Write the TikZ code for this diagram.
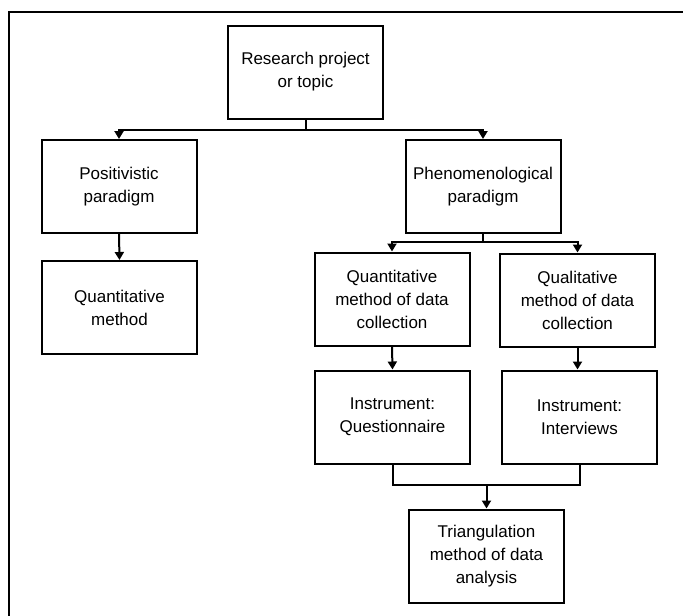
\documentclass[tikz,border=0pt]{standalone}
\usepackage{fontspec}
\setmainfont{Liberation Sans}
\usetikzlibrary{arrows.meta}
\begin{document}
\begin{tikzpicture}[x=1pt,y=-1pt,
  stage/.style={draw=black, line width=2pt, fill=white, align=center,
    minimum width=155pt, minimum height=93pt, inner sep=2pt,
    font=\fontsize{17}{23}\selectfont},
  link/.style={line width=2pt},
  arr/.style={link, -{Triangle[width=9pt,length=8pt]}}]
\useasboundingbox (0,0) rectangle (683,616);
% outer frame (open to the right and bottom)
\draw[line width=2.8pt] (9,616) -- (9,12) -- (683,12);

% boxes
\node[stage] (res) at (305.5,72)  {Research project\\or topic};
\node[stage] (pos) at (119,186.5) {Positivistic\\paradigm};
\node[stage] (phe) at (483,186.5) {Phenomenological\\paradigm};
\node[stage] (qm)  at (119.5,307.5) {Quantitative\\method};
\node[stage] (qdc) at (392,299)   {Quantitative\\method of data\\collection};
\node[stage] (ldc) at (577.5,300) {Qualitative\\method of data\\collection};
\node[stage] (iq)  at (392.5,417) {Instrument:\\Questionnaire};
\node[stage] (ii)  at (579.5,417) {Instrument:\\Interviews};
\node[stage] (tri) at (486.5,556) {Triangulation\\method of data\\analysis};

% connectors
\draw[link] (res.south) -- ++(0,10) coordinate (j1);
\draw[arr] (j1) -| (pos.north);
\draw[arr] (j1) -| (phe.north);
\draw[arr] (pos.south) -- (qm.north);

\draw[link] (phe.south) -- ++(0,8) coordinate (j2);
\draw[arr] (j2) -| (qdc.north);
\draw[arr] (j2) -| (ldc.north);

\draw[arr] (qdc.south) -- (iq.north);
\draw[arr] (ldc.south) -- (ldc.south |- ii.north);

\draw[link] (iq.south) -- ++(0,20) coordinate (j3) -| (ii.south);
\draw[arr] (j3 -| tri.north) -- (tri.north);
\end{tikzpicture}
\end{document}
